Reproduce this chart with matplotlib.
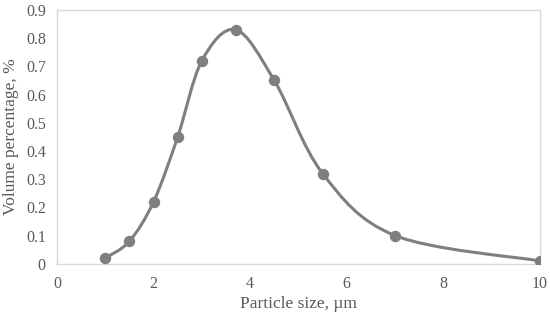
import numpy as np
import matplotlib.pyplot as plt
from matplotlib.path import Path
from matplotlib.patches import PathPatch

plt.rcParams['font.family'] = ['Liberation Serif', 'DejaVu Serif']

size_um = [1, 1.5, 2, 2.5, 3, 3.7, 4.5, 5.5, 7, 10]
volume_pct = [0.02, 0.08, 0.22, 0.45, 0.72, 0.83, 0.65, 0.32, 0.10, 0.01]

x_ticks = [0, 2, 4, 6, 8, 10]
y_ticks = [0, 0.1, 0.2, 0.3, 0.4, 0.5, 0.6, 0.7, 0.8, 0.9]

line_color = '#7f7f7f'
text_color = '#595959'


def smooth_path(xs, ys, t=1 / 6):
    # Excel-like smoothed line: cubic Bezier segments, Catmull-Rom tangents
    pts = np.column_stack([xs, ys]).astype(float)
    n = len(pts)
    verts = [pts[0]]
    codes = [Path.MOVETO]
    for i in range(n - 1):
        p0 = pts[i - 1] if i > 0 else pts[i]
        p1 = pts[i]
        p2 = pts[i + 1]
        p3 = pts[i + 2] if i + 2 < n else pts[i + 1]
        c1 = p1 + (p2 - p0) * t
        c2 = p2 - (p3 - p1) * t
        verts += [c1, c2, p2]
        codes += [Path.CURVE4] * 3
    return Path(verts, codes)


def main():
    fig = plt.figure(figsize=(5.5, 3.17), dpi=100)
    ax = fig.add_axes([0.1036, 0.168, 0.8782, 0.8005])

    ax.add_patch(PathPatch(smooth_path(size_um, volume_pct), facecolor='none',
                           edgecolor=line_color, lw=2.2, zorder=2))
    ax.plot(size_um, volume_pct, 'o', color=line_color, markersize=7.2, zorder=3)

    ax.set_xlim(0, 10)
    ax.set_ylim(0, 0.9)
    ax.set_xticks(x_ticks)
    ax.set_yticks(y_ticks)
    ax.set_yticklabels(['0'] + [f'{v:.1f}' for v in y_ticks[1:]])

    for s in ax.spines.values():
        s.set_color('#d9d9d9')
        s.set_linewidth(1.0)
    ax.tick_params(length=0, labelsize=11.5, colors=text_color)
    ax.tick_params(axis='y', pad=8)
    ax.tick_params(axis='x', pad=9)

    ax.set_xlabel('Particle size, µm', fontsize=12.5, color=text_color, va='center')
    ax.set_ylabel('Volume percentage, %', fontsize=12.5, color=text_color, va='center')
    ax.xaxis.set_label_coords(0.5, -0.158)
    ax.yaxis.set_label_coords(-0.096, 0.5)

    fig.savefig('out.png', dpi=100)


if __name__ == "__main__":
    main()
